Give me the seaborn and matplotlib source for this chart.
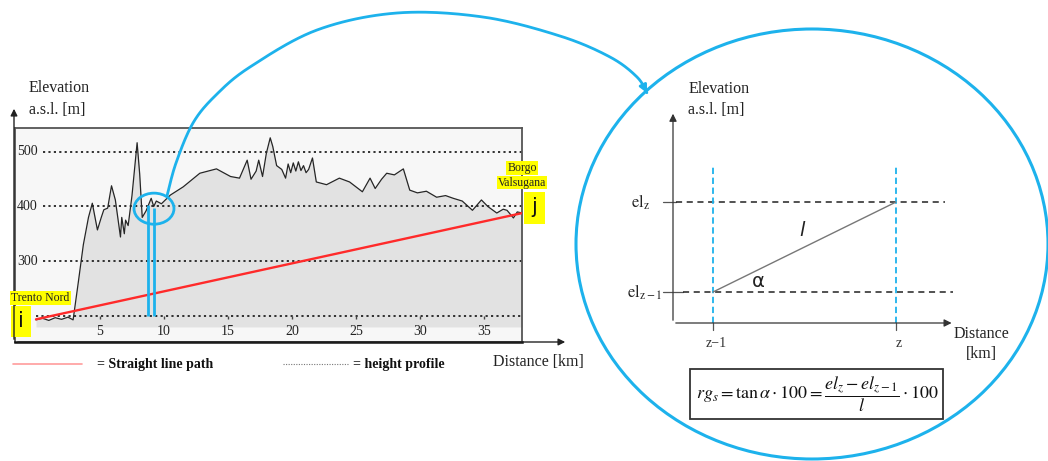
import numpy as np
import pandas as pd
import matplotlib
matplotlib.use('Agg')
import matplotlib.pyplot as plt
import seaborn as sns
from matplotlib.patches import Ellipse, Rectangle, FancyArrowPatch

# ---------------- data: height profile Trento Nord -> Borgo Valsugana ----------------
km = [0, 0.5, 1.0, 1.5, 2.0, 2.5, 2.9, 3.3, 3.7, 4.1, 4.4, 4.8, 5.1, 5.3, 5.6, 5.9,
      6.2, 6.6, 6.7, 6.9, 7.0, 7.2, 7.5, 7.9, 8.1, 8.3, 8.6, 9.0, 9.2, 9.4, 9.8, 10.5,
      11.5, 12.8, 14.1, 15.2, 15.9, 16.5, 16.8, 17.2, 17.4, 17.7, 18.0, 18.3, 18.5,
      18.8, 19.2, 19.5, 19.7, 19.9, 20.1, 20.3, 20.5, 20.7, 20.9, 21.1, 21.3, 21.6,
      21.9, 22.7, 23.7, 24.5, 25.5, 26.1, 26.5, 27.0, 27.4, 28.0, 28.7, 29.2, 29.8,
      30.5, 31.3, 32.0, 32.6, 33.3, 34.1, 34.8, 35.3, 36.0, 36.5, 36.8, 37.3, 37.6, 38.0]
elev = [192, 195, 191, 196, 193, 197, 192, 260, 330, 380, 406, 357, 380, 394, 397, 438,
        412, 344, 380, 350, 375, 365, 420, 517, 460, 380, 392, 415, 400, 410, 405, 421,
        436, 461, 469, 455, 452, 485, 450, 465, 485, 455, 498, 526, 510,
        475, 468, 452, 478, 462, 480, 465, 482, 466, 475, 462, 468, 489,
        445, 440, 452, 445, 427, 452, 433, 450, 461, 458, 469, 430, 425,
        428, 417, 420, 415, 410, 393, 412, 400, 388, 395, 393, 379, 390, 388]
straight_km = [0, 38]
straight_elev = [193, 388]
grid_levels = [200, 300, 400, 500]
elev_tick_labels = [300, 400, 500]
dist_ticks = [5, 10, 15, 20, 25, 30, 35]
segment_km = [8.77, 9.22]
segment_top = [402, 398]
zoom_center_km, zoom_center_elev = 9.22, 396

# ---------------- schematic (right) ----------------
z_pos = [1.43, 7.96]
z_labels = ['z\u22121', 'z']
el_levels = [1.47, 5.73]
el_labels = [r'$\mathrm{el}_{\mathrm{z}-1}$', r'$\mathrm{el}_{\mathrm{z}}$']
formula = r'$rg_s = \tan\alpha \cdot 100 = \dfrac{el_z - el_{z-1}}{l} \cdot 100$'

sns.set_theme(style='white')
plt.rcParams['font.family'] = ['Liberation Serif', 'DejaVu Serif']
plt.rcParams['mathtext.fontset'] = 'stix'

BLUE = '#1db2ec'
W, H = 1048, 461
fig = plt.figure(figsize=(W / 100, H / 100), dpi=100)
fig.patch.set_facecolor('white')


def fr(x0, y0, x1, y1):
    return [x0 / W, 1 - y1 / H, (x1 - x0) / W, (y1 - y0) / H]


# ================= left chart =================
ax = fig.add_axes(fr(15, 128, 522, 342))
ax.set_xlim(-1.64, 37.97)
ax.set_ylim(151.4, 544)
ax.set_facecolor('#f7f7f7')
ax.fill_between(km, elev, 179, color='#e2e2e2', lw=0, zorder=1)
for lv in grid_levels:
    ax.hlines(lv, 0 if lv == 200 else 0.55, 37.97, colors='#222', lw=1.3,
              linestyles=(0, (1.2, 1.8)), zorder=2)
sns.lineplot(x=km, y=elev, ax=ax, color='#262626', lw=0.9, zorder=3)
sns.lineplot(x=straight_km, y=straight_elev, ax=ax, color='#ff2a2a', lw=1.7, zorder=4)
ax.vlines(dist_ticks, 193, 200, colors='#444', lw=1.0, zorder=3)
for t in dist_ticks:
    ax.text(t, 170, str(t), ha='center', va='center', fontsize=10, color='#222')
for v in elev_tick_labels:
    ax.text(-1.48, v, str(v), ha='left', va='center', fontsize=10, color='#222')
for xk, top in zip(segment_km, segment_top):
    ax.vlines(xk, 200, top, colors=BLUE, lw=2.0, zorder=5)
ax.add_patch(Ellipse((zoom_center_km, zoom_center_elev), 3.12, 57, fill=False,
                     ec=BLUE, lw=2.0, zorder=6))
ax.set_xticks([])
ax.set_yticks([])
ax.set_xlabel('')
ax.set_ylabel('')
for s in ['top', 'right', 'left']:
    ax.spines[s].set_color('#555')
    ax.spines[s].set_linewidth(1.3)
ax.spines['bottom'].set_color('#111')
ax.spines['bottom'].set_linewidth(1.8)

# ================= right schematic =================
axr = fig.add_axes(fr(673, 112, 953, 323))
axr.set_xlim(0, 10)
axr.set_ylim(0, 10)
axr.axis('off')
axr.annotate('', xy=(10.05, 0), xytext=(0, 0), annotation_clip=False,
             arrowprops=dict(arrowstyle='-|>', color='#333', lw=0.9, mutation_scale=11))
axr.annotate('', xy=(0, 10.05), xytext=(0, 0), annotation_clip=False,
             arrowprops=dict(arrowstyle='-|>', color='#333', lw=0.9, mutation_scale=11))
# horizontal el levels
axr.plot([-0.36, 0.36], [el_levels[0]] * 2, color='#555', lw=0.9, clip_on=False)
axr.plot([0.36, 10.0], [el_levels[0]] * 2, color='#222', lw=1.1, ls=(0, (4, 3)), clip_on=False)
axr.plot([-0.36, 0.1], [el_levels[1]] * 2, color='#555', lw=0.9, clip_on=False)
axr.plot([0.1, 9.71], [el_levels[1]] * 2, color='#222', lw=1.1, ls=(0, (4, 3)), clip_on=False)
# vertical z lines
for zx in z_pos:
    axr.plot([zx, zx], [0, 7.39], color=BLUE, lw=1.3, ls=(0, (3.5, 2)), clip_on=False)
    axr.plot([zx, zx], [-0.35, 0], color='#555', lw=0.9, clip_on=False)
# slope line
axr.plot(z_pos, el_levels, color='#777', lw=1.0, clip_on=False)
for zx, lab in zip(z_pos, z_labels):
    axr.text(zx + 0.12, -0.95, lab, ha='center', va='center', fontsize=10, color='#333')
for ev, lab in zip(el_levels, el_labels):
    axr.text(-1.0 if ev < 3 else -1.15, ev, lab, ha='center', va='center', fontsize=12,
             color='#222')
axr.text(4.6, 4.4, 'l', ha='center', va='center', fontsize=14, style='italic',
         family=['DejaVu Sans'], color='#222')
axr.text(3.05, 1.95, '\u03b1', ha='center', va='center', fontsize=14,
         family=['DejaVu Sans'], color='#222')
axr.text(0.54, 11.1, 'Elevation', ha='left', va='center', fontsize=11.5, color='#222')
axr.text(0.54, 10.1, 'a.s.l. [m]', ha='left', va='center', fontsize=11.5, color='#222')
axr.text(11.0, -1.0, 'Distance\n[km]', ha='center', va='center', fontsize=11.5,
         linespacing=1.35, color='#222')
axr.text(5.14, -3.37, formula, ha='center', va='center', fontsize=13, color='#111',
         bbox=dict(boxstyle='square,pad=0.28', fc='white', ec='#333', lw=1.3))

# ================= overlay: labels, connectors, legend =================
ov = fig.add_axes([0, 0, 1, 1])
ov.set_xlim(0, W)
ov.set_ylim(H, 0)
ov.axis('off')
ov.patch.set_alpha(0)
ov.set_zorder(10)

# axes arrows of left chart
ov.annotate('', xy=(14, 106), xytext=(14, 342),
            arrowprops=dict(arrowstyle='-|>', color='#222', lw=1.0, mutation_scale=10))
ov.annotate('', xy=(568, 342), xytext=(15, 342),
            arrowprops=dict(arrowstyle='-|>', color='#222', lw=1.0, mutation_scale=10))
ov.text(29, 88, 'Elevation', ha='left', va='center', fontsize=11.5, color='#222')
ov.text(29, 110, 'a.s.l. [m]', ha='left', va='center', fontsize=11.5, color='#222')
ov.text(493, 362, 'Distance [km]', ha='left', va='center', fontsize=11.5, color='#222')

# place labels
YEL = '#ffff00'
ov.text(40.5, 298, 'Trento Nord', ha='center', va='center', fontsize=8.5, color='#222',
        bbox=dict(boxstyle='square,pad=0.08', fc=YEL, ec='none'))
ov.add_patch(Rectangle((11, 306), 20, 31, fc=YEL, ec='none'))
ov.text(21, 321, 'i', ha='center', va='center', fontsize=15, family=['DejaVu Sans'],
        color='#111')
ov.text(522, 168, 'Borgo', ha='center', va='center', fontsize=8.5, color='#222',
        bbox=dict(boxstyle='square,pad=0.08', fc=YEL, ec='none'))
ov.text(522, 182.5, 'Valsugana', ha='center', va='center', fontsize=8.5, color='#222',
        bbox=dict(boxstyle='square,pad=0.08', fc=YEL, ec='none'))
ov.add_patch(Rectangle((524, 192), 21, 32, fc=YEL, ec='none'))
ov.text(534.5, 207, 'j', ha='center', va='center', fontsize=15, family=['DejaVu Sans'],
        color='#111')

# legend
ov.plot([13, 82], [364, 364], color='#ff9c9c', lw=1.2)
ov.text(97, 364, '= Straight line path', ha='left', va='center', fontsize=10,
        fontweight='bold', color='#111')
ov.plot([283, 348], [364, 364], color='#777', lw=0.8, ls=(0, (1, 1.3)))
ov.text(353, 364, '= height profile', ha='left', va='center', fontsize=10,
        fontweight='bold', color='#111')


# connector curve from zoom circle to the detail ellipse
def catmull(points, n=24):
    P = np.array(points, float)
    P = np.vstack([P[0], P, P[-1]])
    out = []
    for i in range(1, len(P) - 2):
        p0, p1, p2, p3 = P[i - 1], P[i], P[i + 1], P[i + 2]
        t = np.linspace(0, 1, n, endpoint=False)[:, None]
        seg = 0.5 * ((2 * p1) + (-p0 + p2) * t + (2 * p0 - 5 * p1 + 4 * p2 - p3) * t ** 2
                     + (-p0 + 3 * p1 - 3 * p2 + p3) * t ** 3)
        out.append(seg)
    out.append(P[-2][None])
    return np.vstack(out)


path_pts = [(167, 196), (176, 163), (193, 123), (216, 95), (250, 67), (317, 30),
            (397, 13), (483, 17), (560, 36), (610, 57), (637, 77), (647, 93)]
curve = catmull(path_pts)
ov.plot(curve[:-6, 0], curve[:-6, 1], color=BLUE, lw=2.0, solid_capstyle='round')
ov.add_patch(FancyArrowPatch(tuple(curve[-7]), tuple(curve[-1]), arrowstyle='-|>',
                             mutation_scale=11, color=BLUE, lw=2.0))

# detail ellipse
ov.add_patch(Ellipse((812, 244), 472, 430, fill=False, ec=BLUE, lw=2.2))

fig.savefig('out.png', dpi=100, facecolor='white')
